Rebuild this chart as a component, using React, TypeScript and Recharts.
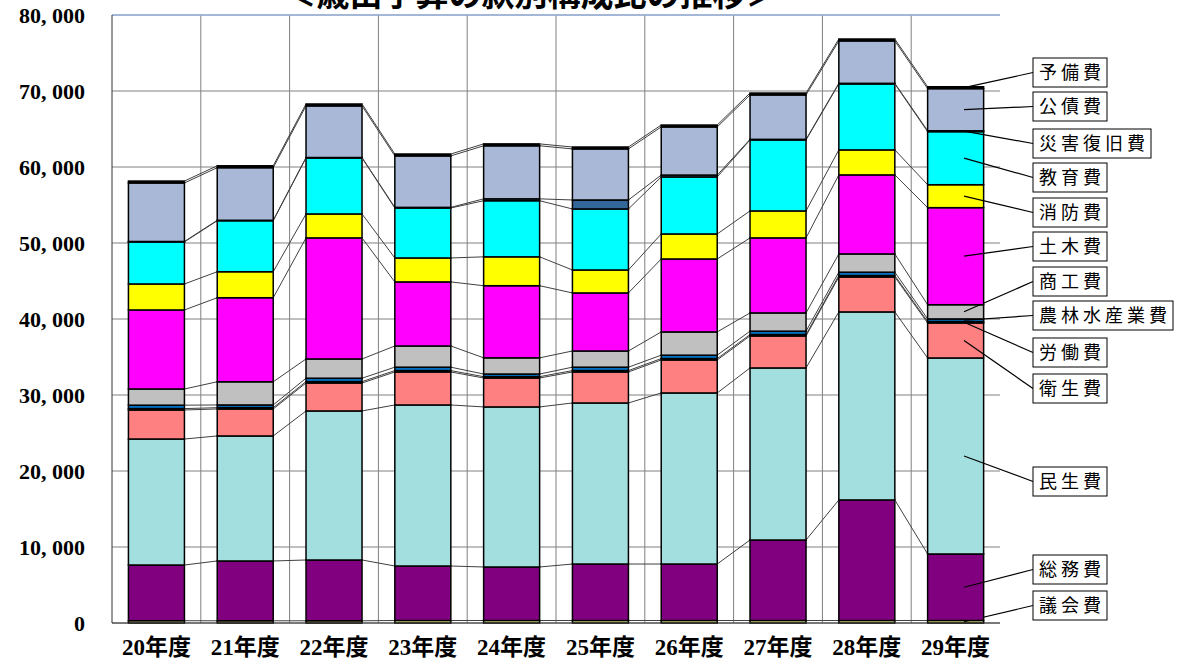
import { BarChart, Bar, XAxis, YAxis, CartesianGrid, ReferenceLine } from "recharts";

const years = ["20年度", "21年度", "22年度", "23年度", "24年度", "25年度", "26年度", "27年度", "28年度", "29年度"];

// 款別の予算額（百万円）、下から順に積み上げ
const gikai = [300, 290, 290, 330, 330, 330, 330, 330, 330, 330];
const somu = [7330, 7870, 8000, 7170, 7040, 7430, 7430, 10590, 15860, 8750];
const minsei = [16580, 16450, 19610, 21190, 21060, 21190, 22510, 22640, 24740, 25790];
const eisei = [3820, 3550, 3680, 4340, 3810, 4080, 4340, 4210, 4600, 4610];
const rodo = [180, 170, 180, 180, 170, 180, 180, 180, 180, 180];
const norin = [450, 360, 450, 450, 350, 450, 450, 450, 450, 350];
const shoko = [2130, 3050, 2530, 2790, 2130, 2130, 3060, 2400, 2400, 1870];
const doboku = [10400, 11060, 15930, 8430, 9490, 7640, 9600, 9870, 10400, 12770];
const shobo = [3420, 3420, 3150, 3150, 3800, 3020, 3290, 3550, 3290, 3020];
const kyoiku = [5530, 6710, 7370, 6580, 7380, 8030, 7500, 9340, 8680, 6980];
const saigai = [60, 60, 60, 80, 250, 1180, 250, 80, 80, 120];
const kosai = [7700, 6920, 6790, 6770, 6980, 6720, 6330, 5840, 5580, 5540];
const yobi = [250, 250, 250, 250, 250, 250, 250, 250, 250, 250];

const yTicks = [0, 10000, 20000, 30000, 40000, 50000, 60000, 70000, 80000];

const series = [
  { key: "gikai", name: "議会費", color: "#FFFF99", values: gikai, boxTop: 591 },
  { key: "somu", name: "総務費", color: "#800080", values: somu, boxTop: 555 },
  { key: "minsei", name: "民生費", color: "#A4DFDF", values: minsei, boxTop: 467 },
  { key: "eisei", name: "衛生費", color: "#FF8080", values: eisei, boxTop: 374 },
  { key: "rodo", name: "労働費", color: "#003366", values: rodo, boxTop: 338 },
  { key: "norin", name: "農林水産業費", color: "#0070C0", values: norin, boxTop: 301 },
  { key: "shoko", name: "商工費", color: "#C0C0C0", values: shoko, boxTop: 267 },
  { key: "doboku", name: "土木費", color: "#FF00FF", values: doboku, boxTop: 232 },
  { key: "shobo", name: "消防費", color: "#FFFF00", values: shobo, boxTop: 198 },
  { key: "kyoiku", name: "教育費", color: "#00FFFF", values: kyoiku, boxTop: 163 },
  { key: "saigai", name: "災害復旧費", color: "#336699", values: saigai, boxTop: 129 },
  { key: "kosai", name: "公債費", color: "#A9B8D6", values: kosai, boxTop: 92 },
  { key: "yobi", name: "予備費", color: "#000000", values: yobi, boxTop: 58 },
];

const rows = years.map((year, i) => {
  const r: any = { year };
  series.forEach((s) => (r[s.key] = s.values[i]));
  return r;
});

const W = 1179;
const H = 668;
const MARGIN = { top: 15, right: 179, left: 0, bottom: 0 };
const YAXIS_W = 112;
const STEP = (W - MARGIN.left - MARGIN.right - YAXIS_W) / years.length;
const BOX_X = 1033;
const BOX_H = 29;
const LABEL_FS = 18;
const LABEL_SP = 4;

const cumTop = (si: number, i: number) => {
  let t = 0;
  for (let s = 0; s <= si; s++) t += series[s].values[i];
  return t;
};

function segmentShape(si: number) {
  return (props: any) => {
    const { x, y, width, height, index } = props;
    const s = series[si];
    const k = height / s.values[index];
    const parts: any[] = [
      <rect key="r" x={x} y={y} width={width} height={height} fill={s.color} stroke="#000" strokeWidth={1.5} />,
    ];
    if (index < years.length - 1) {
      const yNext = y + (cumTop(si, index) - cumTop(si, index + 1)) * k;
      parts.push(
        <line key="l" x1={x + width} y1={y} x2={x + STEP} y2={yNext} stroke="#404040" strokeWidth={1} />
      );
    } else {
      const n = s.name.length;
      const bw = n * LABEL_FS + (n - 1) * LABEL_SP + 12;
      parts.push(
        <line key="ld" x1={x + width * 0.65} y1={y + height / 2} x2={BOX_X} y2={s.boxTop + BOX_H / 2} stroke="#000" strokeWidth={1.2} />,
        <rect key="bx" x={BOX_X} y={s.boxTop} width={bw} height={BOX_H} fill="#fff" stroke="#000" strokeWidth={1} />,
        <text key="tx" x={BOX_X + 6} y={s.boxTop + 21} fontSize={LABEL_FS} letterSpacing={LABEL_SP} fontFamily="'Noto Sans CJK JP', sans-serif" fill="#000">
          {s.name}
        </text>
      );
    }
    return <g>{parts}</g>;
  };
}

const verticalGen = (props: any) => {
  const { offset } = props;
  const pts: number[] = [];
  for (let i = 1; i < years.length; i++) pts.push(offset.left + (offset.width * i) / years.length);
  return pts;
};

const fmt = (v: number) => (v === 0 ? "0" : v.toLocaleString("en-US").replace(",", ", "));

export default function App() {
  return (
    <div style={{ position: "absolute", left: 0, top: 0, width: W, height: H, background: "#fff", overflow: "hidden" }}>
      <div
        style={{
          position: "absolute",
          left: 0,
          width: 1062,
          top: -24,
          textAlign: "center",
          fontSize: 33,
          lineHeight: "33px",
          fontWeight: 700,
          fontFamily: "'Noto Sans CJK JP', sans-serif",
          color: "#000",
          whiteSpace: "nowrap",
        }}
      >
        ＜歳出予算の款別構成比の推移＞
      </div>
      <BarChart width={W} height={H} data={rows} margin={MARGIN} barCategoryGap="18.5%">
        <CartesianGrid stroke="#808080" strokeWidth={1} verticalCoordinatesGenerator={verticalGen} />
        <XAxis
          dataKey="year"
          height={45}
          interval={0}
          tickLine={false}
          tickSize={0}
          tickMargin={16}
          axisLine={{ stroke: "#333" }}
          tick={{ fontSize: 23, fontWeight: 700, fill: "#000", fontFamily: "'Liberation Serif', 'Noto Sans CJK JP', serif" }}
        />
        <YAxis
          width={YAXIS_W}
          domain={[0, 80000]}
          ticks={yTicks}
          interval={0}
          tickFormatter={fmt}
          tickLine={false}
          tickSize={0}
          tickMargin={27}
          axisLine={{ stroke: "#333" }}
          tick={{ fontSize: 22, fontWeight: 700, fill: "#000", fontFamily: "'Liberation Serif', serif" }}
        />
        <YAxis yAxisId="r" orientation="right" width={0} domain={[0, 1]} tick={false} tickLine={false} axisLine={{ stroke: "#9DB5DE", strokeWidth: 1.5 }} />
        <ReferenceLine y={80000} stroke="#9DB5DE" strokeWidth={1.5} />
        {series.map((s, si) => (
          <Bar
            key={s.key}
            dataKey={s.key}
            name={s.name}
            stackId="a"
            fill={s.color}
            isAnimationActive={false}
            shape={segmentShape(si)}
          />
        ))}
      </BarChart>
    </div>
  );
}
